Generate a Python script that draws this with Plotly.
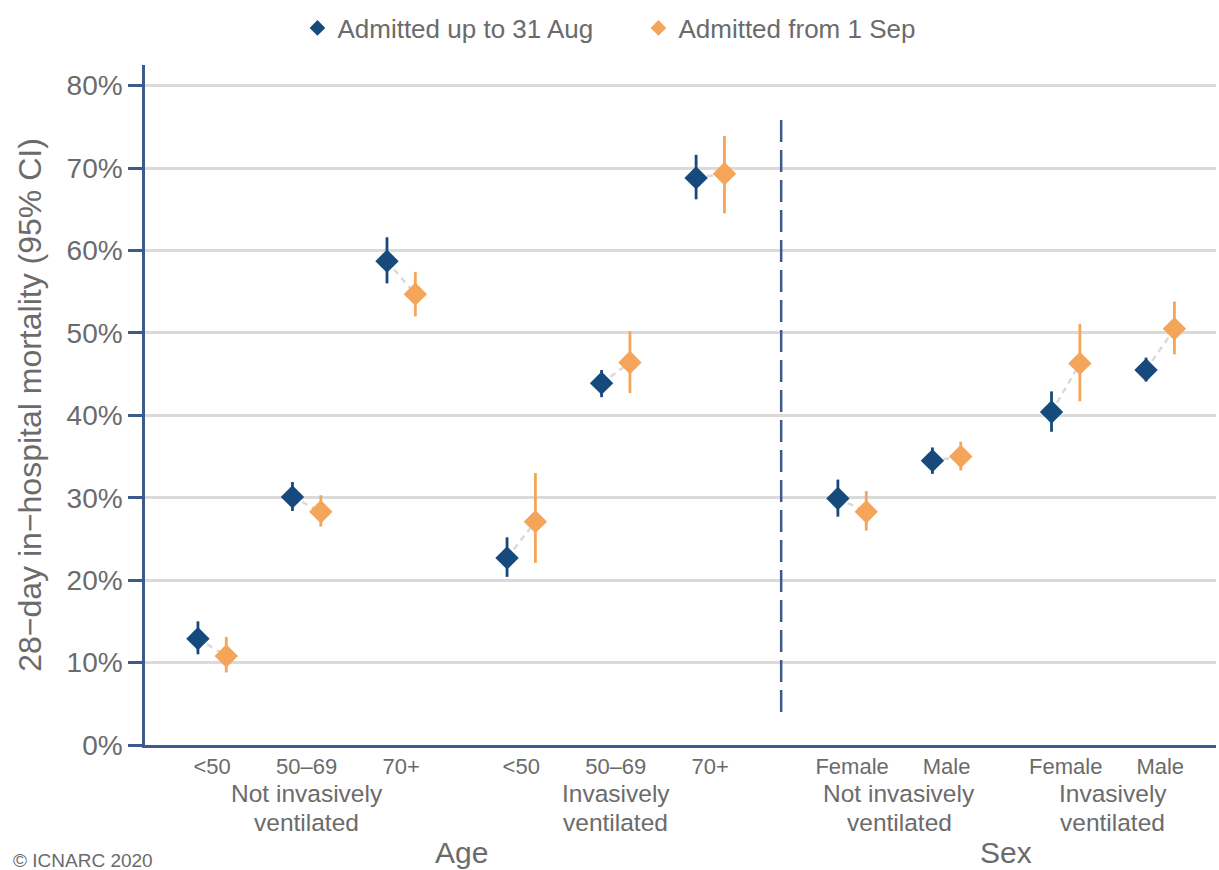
import plotly.graph_objects as go

# ---- data ----
categories = ["<50", "50\u201369", "70+", "<50", "50\u201369", "70+",
              "Female", "Male", "Female", "Male"]
groups = [["Not invasively", "ventilated"], ["Invasively", "ventilated"],
          ["Not invasively", "ventilated"], ["Invasively", "ventilated"]]
panels = ["Age", "Sex"]

early_est = [12.9, 30.1, 58.7, 22.7, 43.9, 68.8, 29.9, 34.5, 40.4, 45.5]
early_lo = [11.0, 28.4, 56.0, 20.4, 42.2, 66.2, 27.7, 32.9, 38.0, 44.1]
early_hi = [15.0, 31.9, 61.6, 25.2, 45.5, 71.6, 32.2, 36.1, 42.9, 47.0]

late_est = [10.8, 28.3, 54.7, 27.1, 46.4, 69.3, 28.3, 35.0, 46.3, 50.5]
late_lo = [8.8, 26.5, 52.0, 22.1, 42.7, 64.5, 26.0, 33.3, 41.7, 47.4]
late_hi = [13.1, 30.3, 57.4, 33.0, 50.2, 73.9, 30.8, 36.8, 51.1, 53.8]

y_ticks = [0, 10, 20, 30, 40, 50, 60, 70, 80]
y_tick_labels = [f"{v}%" for v in y_ticks]

# ---- layout helpers ----
pos = [0, 1, 2, 3.27, 4.27, 5.27, 6.77, 7.77, 9.03, 10.03]
group_members = [[0, 1, 2], [3, 4, 5], [6, 7], [8, 9]]
panel_members = [[0, 1, 2, 3, 4, 5], [6, 7, 8, 9]]
dodge = 0.15
BLUE = "#174A7C"
ORANGE = "#F4A55A"
AXIS = "#3E5A8A"
TXT = "#6B6B6B"
FONT = "Liberation Sans, Arial, sans-serif"

W, H = 1219, 870
ML, MR, MT, MB = 145, 3, 65, 125
PW, PH = W - ML - MR, H - MT - MB


def py(pix):  # paper y from pixel row
    return (H - MB - pix) / PH


def px(pix):  # paper x from pixel column
    return (pix - ML) / PW


x_early = [p - dodge for p in pos]
x_late = [p + dodge for p in pos]

fig = go.Figure()

# connecting dashed lines
cx, cy = [], []
for i in range(len(pos)):
    cx += [x_early[i], x_late[i], None]
    cy += [early_est[i], late_est[i], None]
fig.add_trace(go.Scatter(x=cx, y=cy, mode="lines", showlegend=False,
                         hoverinfo="skip",
                         line=dict(color="#DADADA", width=2.5, dash="6px,5px")))

fig.add_trace(go.Scatter(
    x=x_early, y=early_est, mode="markers", name="Admitted up to 31 Aug",
    marker=dict(symbol="diamond", size=18, color=BLUE),
    error_y=dict(type="data", symmetric=False,
                 array=[h - e for h, e in zip(early_hi, early_est)],
                 arrayminus=[e - l for e, l in zip(early_est, early_lo)],
                 color=BLUE, thickness=2.8, width=0)))
fig.add_trace(go.Scatter(
    x=x_late, y=late_est, mode="markers", name="Admitted from 1 Sep",
    marker=dict(symbol="diamond", size=18, color=ORANGE),
    error_y=dict(type="data", symmetric=False,
                 array=[h - e for h, e in zip(late_hi, late_est)],
                 arrayminus=[e - l for e, l in zip(late_est, late_lo)],
                 color=ORANGE, thickness=2.8, width=0)))

# vertical dashed separator between panels
sep_x = (pos[5] + pos[6]) / 2
fig.add_shape(type="line", x0=sep_x, x1=sep_x, y0=4, y1=76, xref="x", yref="y",
              line=dict(color=AXIS, width=2.5, dash="22px,8px"))

annotations = []
for g, mem in zip(groups, group_members):
    cxm = (pos[mem[0]] + pos[mem[-1]]) / 2
    for line_text, row in zip(g, [793, 822]):
        annotations.append(dict(x=cxm, y=py(row), xref="x", yref="paper",
                                yanchor="middle", text=line_text, showarrow=False,
                                font=dict(size=24.5, color=TXT, family=FONT)))
for p, mem in zip(panels, panel_members):
    cxm = (pos[mem[0]] + pos[mem[-1]]) / 2
    annotations.append(dict(x=cxm, y=py(853), xref="x", yref="paper",
                            yanchor="middle", text=p, showarrow=False,
                            font=dict(size=30, color=TXT, family=FONT)))
annotations.append(dict(x=px(11), y=py(860), xref="paper", yref="paper",
                        xanchor="left", yanchor="middle",
                        text="\u00a9 ICNARC 2020", showarrow=False,
                        font=dict(size=19, color=TXT, family=FONT)))

fig.update_layout(
    width=W, height=H,
    margin=dict(l=ML, r=MR, t=MT, b=MB, autoexpand=False),
    paper_bgcolor="white", plot_bgcolor="white",
    font=dict(family=FONT, color=TXT),
    legend=dict(orientation="h", xref="container", yref="container",
                x=0.244, xanchor="left", y=1 - 28 / H, yanchor="middle",
                font=dict(size=26, color=TXT), entrywidth=296,
                entrywidthmode="pixels", itemsizing="constant",
                traceorder="normal"),
    xaxis=dict(range=[-0.71, 10.62], tickmode="array", tickvals=pos,
               ticktext=categories, ticks="", showgrid=False, zeroline=False,
               showline=True, linecolor=AXIS, linewidth=2.5,
               tickfont=dict(size=22, color=TXT)),
    yaxis=dict(range=[0, 82.5], tickmode="array", tickvals=y_ticks,
               ticktext=y_tick_labels, ticks="outside", ticklen=14,
               tickcolor=AXIS, tickwidth=2.5,
               showgrid=True, gridcolor="#DADADA", gridwidth=2.5,
               zeroline=False, showline=True, linecolor=AXIS, linewidth=2.5,
               tickfont=dict(size=28, color=TXT),
               title=dict(text="28\u2212day in\u2212hospital mortality (95% CI)",
                          font=dict(size=32, color=TXT), standoff=16)),
    annotations=annotations,
)

fig.write_html("out.html",
               config={"displayModeBar": False},
               post_script="document.body.style.margin='0';"
                           "document.body.style.overflow='hidden';")
